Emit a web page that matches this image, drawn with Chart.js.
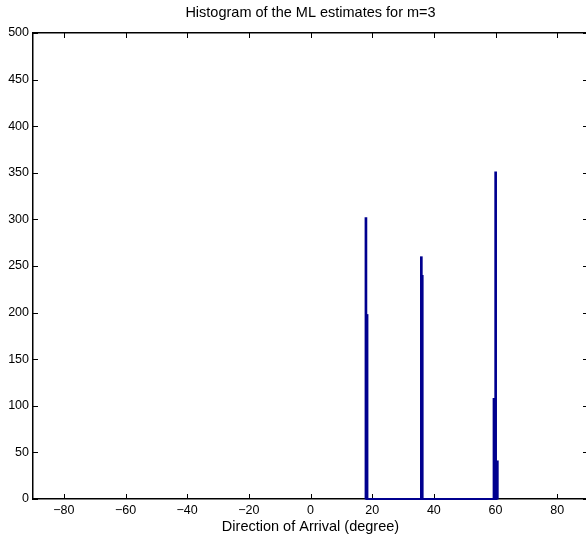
<!DOCTYPE html>
<html>
<head>
<meta charset="utf-8">
<script src="https://cdn.jsdelivr.net/npm/chart.js@4.4.1/dist/chart.umd.min.js"></script>
<style>
html, body { margin: 0; padding: 0; background: #fff; overflow: hidden; }
#wrap { position: absolute; left: 0; top: 0; width: 592px; height: 537px; }
</style>
</head>
<body>
<div id="wrap"><canvas id="hist" width="592" height="537"></canvas></div>
<script>
// ==========================================
// HISTOGRAM DATA (ML DOA estimates, m=3)
// ==========================================

// bin centres in degrees and the counts in them
const binCenters = [17.98, 18.35, 35.95, 36.25, 59.5, 60.05, 60.6];
const binCounts = [302, 198, 260, 240, 108, 351, 41];

// first and last bin of the histogram (empty bins in between sit on zero)
const binRange = [17.85, 60.65];

const xTicks = [-80, -60, -40, -20, 0, 20, 40, 60, 80];
const yTicks = [0, 50, 100, 150, 200, 250, 300, 350, 400, 450, 500];

const barBlue = '#00008f';

Chart.defaults.font.family = "'Liberation Sans', Arial, Helvetica, sans-serif";
Chart.defaults.font.size = 12.5;
Chart.defaults.color = '#000';

// MATLAB style ticks pointing into the box, plus the right edge of the box
const boxTicks = {
    id: 'boxTicks',
    beforeDatasetsDraw(chart) {
        const { ctx, chartArea: a, scales: { x, y } } = chart;
        const len = 5;
        ctx.save();
        ctx.strokeStyle = '#000';
        ctx.lineWidth = 1;
        ctx.beginPath();
        x.ticks.forEach(t => {
            const px = Math.round(x.getPixelForValue(t.value)) + 0.5;
            ctx.moveTo(px, a.bottom);
            ctx.lineTo(px, a.bottom - len);
            ctx.moveTo(px, a.top);
            ctx.lineTo(px, a.top + len);
        });
        y.ticks.forEach(t => {
            const py = Math.round(y.getPixelForValue(t.value)) + 0.5;
            ctx.moveTo(a.left, py);
            ctx.lineTo(a.left + len, py);
            ctx.moveTo(a.right, py);
            ctx.lineTo(a.right - len, py);
        });
        ctx.stroke();
        ctx.lineWidth = 1.5;
        ctx.beginPath();
        ctx.moveTo(a.right, a.top);
        ctx.lineTo(a.right, a.bottom);
        ctx.stroke();
        ctx.restore();
    }
};

new Chart(document.getElementById('hist'), {
    type: 'bar',
    data: {
        datasets: [{
            type: 'bar',
            data: binCenters.map((c, i) => ({ x: c, y: binCounts[i] })),
            backgroundColor: barBlue,
            borderWidth: 0,
            barThickness: 2,
            clip: 4
        }, {
            type: 'line',
            data: binRange.map(c => ({ x: c, y: 0 })),
            borderColor: barBlue,
            borderWidth: 2,
            pointRadius: 0,
            clip: 4
        }]
    },
    plugins: [boxTicks],
    options: {
        responsive: false,
        animation: false,
        layout: { padding: { left: 0, right: 4, top: 0, bottom: 0 } },
        plugins: {
            legend: { display: false },
            title: { display: false },
            tooltip: { enabled: false }
        },
        scales: {
            x: {
                type: 'linear',
                position: 'bottom',
                min: -90,
                max: 90,
                offset: false,
                afterBuildTicks: s => { s.ticks = xTicks.map(v => ({ value: v })); },
                afterFit: s => { s.height = 38; },
                ticks: {
                    autoSkip: false,
                    maxRotation: 0,
                    padding: 4,
                    callback: v => String(v).replace('-', '\u2212')
                },
                grid: { display: false, drawTicks: false },
                border: { display: true, color: '#000', width: 1.5 },
                title: {
                    display: true,
                    text: 'Direction of Arrival (degree)',
                    font: { size: 14.5 },
                    padding: { top: 0, bottom: 1 }
                }
            },
            top: {
                type: 'linear',
                position: 'top',
                min: -90,
                max: 90,
                afterFit: s => { s.height = 33; },
                ticks: { display: false },
                grid: { display: false, drawTicks: false },
                border: { display: true, color: '#000', width: 1.5 },
                title: {
                    display: true,
                    text: 'Histogram of the ML estimates for m=3',
                    font: { size: 14.5 },
                    padding: { top: 4, bottom: 0 }
                }
            },
            y: {
                type: 'linear',
                min: 0,
                max: 500,
                afterBuildTicks: s => { s.ticks = yTicks.map(v => ({ value: v })); },
                afterFit: s => { s.width = 33; },
                ticks: { padding: 4 },
                grid: { display: false, drawTicks: false },
                border: { display: true, color: '#000', width: 1.5 }
            }
        }
    }
});
</script>
</body>
</html>
